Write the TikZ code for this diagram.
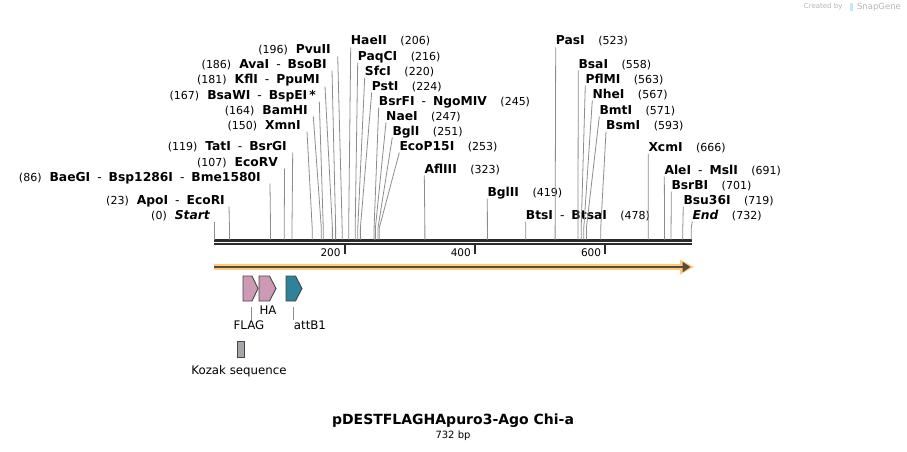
\documentclass[tikz,border=0pt]{standalone}
\usepackage{fontspec}
\setmainfont{DejaVu Sans}
\usetikzlibrary{arrows.meta}

\definecolor{barcol}{HTML}{2B2B2B}
\definecolor{leadcol}{HTML}{8C8C8C}
\definecolor{orfband}{HTML}{FDCB79}
\definecolor{orfline}{HTML}{594A3B}
\definecolor{tagpink}{HTML}{CC9AB5}
\definecolor{attteal}{HTML}{2F8299}
\definecolor{kozakgray}{HTML}{A3A7AC}
\definecolor{featedge}{HTML}{454545}
\definecolor{markgray}{HTML}{B4B4B4}

\newcommand{\enzdash}{\hspace{7pt}{\mdseries -}\hspace{7pt}}
\newcommand{\numtxt}{\fontsize{11}{12}\selectfont\mdseries}

\tikzset{
  enzlab/.style={font=\fontsize{12.3}{14}\selectfont\bfseries, inner sep=0pt},
  leader/.style={leadcol, line width=0.8pt},
  featlab/.style={font=\fontsize{11.8}{13}\selectfont, inner sep=1pt},
  ticklab/.style={font=\fontsize{10.5}{12}\selectfont, inner sep=0pt}
}

\begin{document}
\begin{tikzpicture}[x=1pt, y=-1pt]
    \useasboundingbox (0,0) rectangle (907,452);

    % Sequence (double strand)
    \coordinate (seqL) at (214,240.5);
    \coordinate (seqR) at (691.5,240.5);
    \coordinate (seqL2) at (214,244.3);
    \coordinate (seqR2) at (691.5,244.3);
    \draw[barcol, line width=2.6pt] (seqL) -- (seqR);
    \draw[barcol, line width=2pt] (seqL2) -- (seqR2);

    % Ruler ticks
    \foreach \t in {200,400,600} {
        \pgfmathsetmacro{\sx}{214.5+\t*0.6513}
        \coordinate (tk\t) at (\sx,245);
        \coordinate (tb\t) at (\sx,253.5);
        \draw[barcol, line width=1.8pt] (tk\t) -- (tb\t);
        \node[ticklab, anchor=base east] (tl\t) at (\sx-4,256.5) {\t};
    }

    % Enzymes, labels on the left
    \foreach \p/\y/\rx/\tx/\nm in {
        0/215/210/214.5/{{\itshape Start}},
        23/200/225/229/{ApoI\enzdash EcoRI},
        86/177/261/270/{BaeGI\enzdash Bsp1286I\enzdash Bme1580I},
        107/162/278/284.6/{EcoRV},
        119/146/287/292.7/{TatI\enzdash BsrGI},
        150/125/301/307/{XmnI},
        164/110/308/313.3/{BamHI},
        167/95/316/319.3/{BsaWI\enzdash BspEI\,*},
        181/80/320/325/{KflI\enzdash PpuMI},
        186/64/327/332/{AvaI\enzdash BsoBI},
        196/50/331/337.7/{PvuII}} {
        \pgfmathsetmacro{\sx}{214.5+\p*0.6513}
        \node[enzlab, anchor=base east] (lab\p) at (\rx,\y+4) {{\numtxt(\p)}\hspace{8pt}\nm};
        \coordinate (top\p) at (\tx,\y+6.5);
        \coordinate (knee\p) at (\sx,228);
        \coordinate (cut\p) at (\sx,239.5);
        \draw[leader] (top\p) -- (knee\p) -- (cut\p);
    }

    % Enzymes, labels on the right
    \foreach \p/\y/\tx/\nm in {
        206/41/350.7/HaeII,
        216/56/357.7/PaqCI,
        220/71/364.7/SfcI,
        224/86/371.7/PstI,
        245/101/378.7/{BsrFI\enzdash NgoMIV},
        247/116/386/NaeI,
        251/131/392.3/BglI,
        253/146/399.3/EcoP15I,
        323/169/424.3/AflIII,
        419/192/487.3/BglII,
        478/215/525.7/{BtsI\enzdash BtsaI},
        523/41/555.7/PasI,
        558/64/578.3/BsaI,
        563/79/585.3/PflMI,
        567/94/592.3/NheI,
        571/110/599.3/BmtI,
        593/125/606/BsmI,
        666/147/648.3/XcmI,
        691/170/664.3/{AleI\enzdash MslI},
        701/185/671.3/BsrBI,
        719/200/683.3/Bsu36I,
        732/215/692.3/{{\itshape End}}} {
        \pgfmathsetmacro{\sx}{214.5+\p*0.6513}
        \node[enzlab, anchor=base west] (lab\p) at (\tx,\y+4) {\nm\hspace{13.5pt}{\numtxt(\p)}};
        \coordinate (top\p) at (\tx,\y+6.5);
        \coordinate (knee\p) at (\sx,228);
        \coordinate (cut\p) at (\sx,239.5);
        \draw[leader] (top\p) -- (knee\p) -- (cut\p);
    }

    % ORF arrow
    \coordinate (orfL) at (214,267);
    \coordinate (orfR) at (684,267);
    \coordinate (orfTip) at (690.5,267);
    \draw[orfband, line width=6pt] (orfL) -- (orfR);
    \fill[orfband] (680,259.5) -- (694,267) -- (680,274.5) -- cycle;
    \draw[orfline, line width=2.4pt, -{Triangle[length=8pt,width=10pt]}] (orfL) -- (orfTip);

    % Features
    \draw[fill=tagpink, draw=featedge, line width=0.9pt]
        (243,276) -- (252,276) -- (258,288.5) -- (252,301) -- (243,301) -- cycle;
    \draw[fill=tagpink, draw=featedge, line width=0.9pt]
        (259,276) -- (269.5,276) -- (276,288.5) -- (269.5,301) -- (259,301) -- cycle;
    \draw[fill=attteal, draw=featedge, line width=0.9pt]
        (286,276) -- (295.5,276) -- (302,288.5) -- (295.5,301) -- (286,301) -- cycle;
    \draw[fill=kozakgray, draw=featedge, line width=0.9pt] (237,341.5) rectangle (244,357);

    \node[featlab] (halab) at (268,310) {HA};
    \node[featlab, anchor=north] (flaglab) at (249,319.5) {FLAG};
    \node[featlab, anchor=north west] (attlab) at (292.7,319.5) {attB1};
    \node[featlab] (kozaklab) at (239,371) {Kozak sequence};

    \coordinate (flagpin) at (251,307);
    \coordinate (attpin) at (293.7,307);
    \draw[leader] (flagpin) -- (flagpin |- flaglab.north);
    \draw[leader] (attpin) -- (attpin |- attlab.north);

    % Title
    \node[font=\fontsize{14}{16}\selectfont\bfseries] (title) at (453,421) {pDESTFLAGHApuro3-Ago Chi-a};
    \node[font=\fontsize{10}{12}\selectfont] (size) at (453,436) {732 bp};

    % Watermark
    \node[font=\fontsize{7}{8}\selectfont, text=markgray, anchor=east] (made) at (846,7) {Created by};
    \fill[cyan!25] (849.5,3) rectangle (852.5,11.5);
    \node[font=\fontsize{8.5}{10}\selectfont, text=markgray, anchor=west] (sgene) at (853.5,7) {SnapGene};
\end{tikzpicture}
\end{document}
